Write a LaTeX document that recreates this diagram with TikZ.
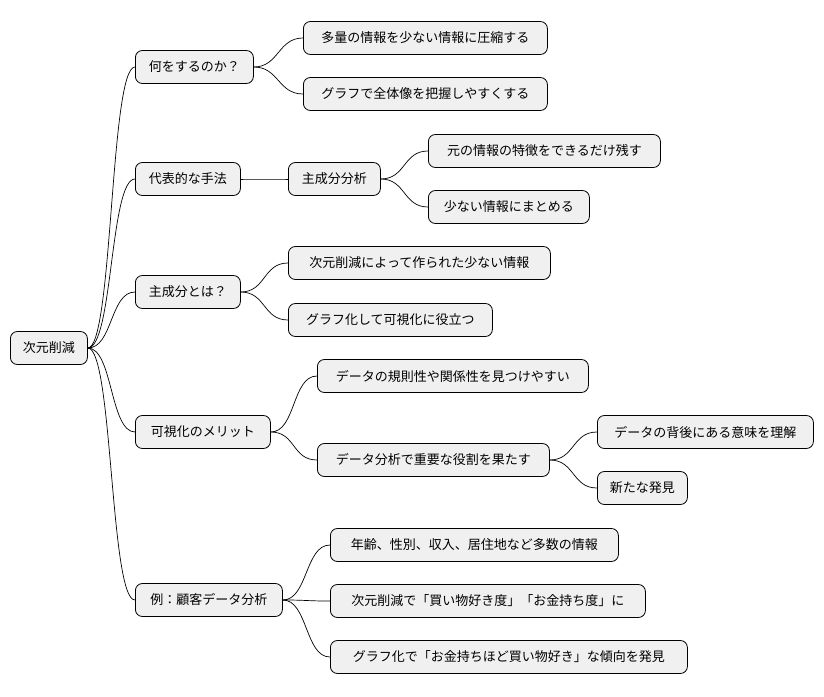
\documentclass[tikz,border=0pt]{standalone}
\usepackage{fontspec}
\setmainfont{Noto Sans CJK JP}
\begin{document}
\begin{tikzpicture}[x=1pt,y=-1pt,
 box/.style={draw=black,line width=0.8pt,fill=black!6,rounded corners=7pt,anchor=west,minimum height=33pt,inner sep=0pt,font=\fontsize{13}{15}\selectfont},
 ed/.style={line width=0.7pt}]
\useasboundingbox (0,0) rectangle (824,696);
\newcommand\nd[5]{\node[box,minimum width={#3-#2}] (#1) at (#2,#4) {#5};}
\newcommand\cn[2]{\draw[ed] (#1.east) .. controls +(25,0) and +(-25,0) .. (#2.west);}
\nd{r}{10}{87}{348}{次元削減}
\nd{a}{135}{253}{67}{何をするのか？}
\nd{b}{135}{240}{179}{代表的な手法}
\nd{c}{135}{240}{292}{主成分とは？}
\nd{d}{135}{270}{432}{可視化のメリット}
\nd{e}{135}{282}{600}{例：顧客データ分析}
\nd{a1}{303}{547}{38}{多量の情報を少ない情報に圧縮する}
\nd{a2}{303}{547}{94}{グラフで全体像を把握しやすくする}
\nd{b1}{288}{380}{179}{主成分分析}
\nd{c1}{288}{550}{263}{次元削減によって作られた少ない情報}
\nd{c2}{288}{492}{320}{グラフ化して可視化に役立つ}
\nd{d1}{317}{588}{376}{データの規則性や関係性を見つけやすい}
\nd{d2}{317}{549}{460}{データ分析で重要な役割を果たす}
\nd{e1}{330}{618}{545}{年齢、性別、収入、居住地など多数の情報}
\nd{e2}{330}{645}{601}{次元削減で「買い物好き度」「お金持ち度」に}
\nd{e3}{330}{687}{657}{グラフ化で「お金持ちほど買い物好き」な傾向を発見}
\nd{b11}{428}{660}{151}{元の情報の特徴をできるだけ残す}
\nd{b12}{428}{589}{207}{少ない情報にまとめる}
\nd{d21}{597}{813}{432}{データの背後にある意味を理解}
\nd{d22}{597}{687}{488}{新たな発見}
\foreach \p/\c in {r/a,r/b,r/c,r/d,r/e,a/a1,a/a2,b/b1,c/c1,c/c2,d/d1,d/d2,e/e1,e/e2,e/e3,b1/b11,b1/b12,d2/d21,d2/d22}{\cn{\p}{\c}}
\end{tikzpicture}
\end{document}
